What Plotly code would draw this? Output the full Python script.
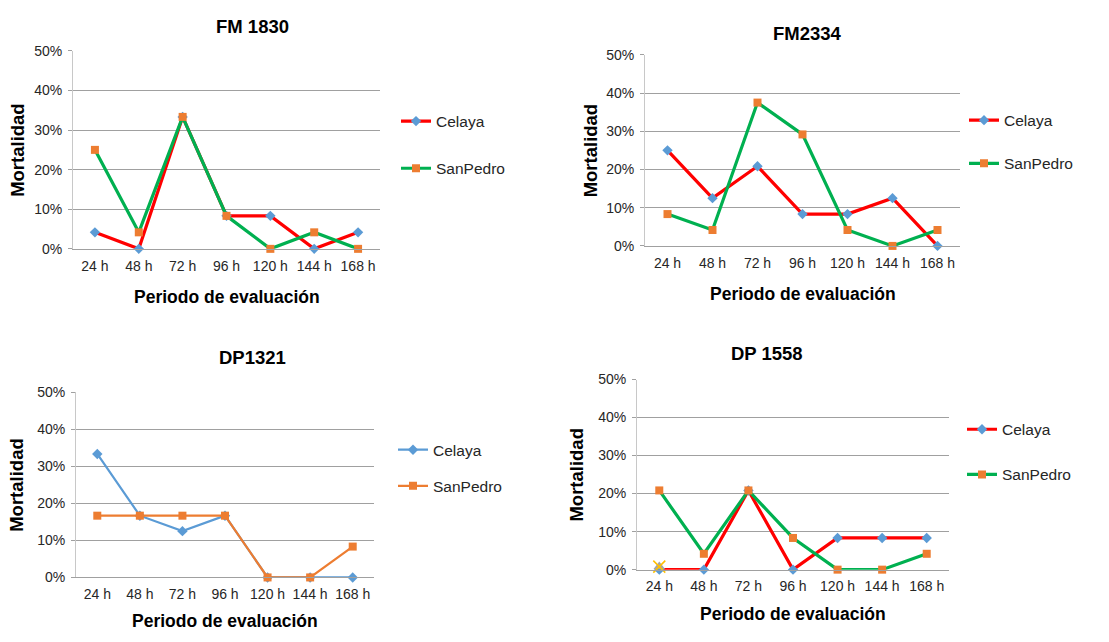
import plotly.graph_objects as go

W, H = 1109, 642
categories = ["24 h", "48 h", "72 h", "96 h", "120 h", "144 h", "168 h"]
panel_titles = ["FM 1830", "FM2334", "DP1321", "DP 1558"]

fm1830_celaya = [0.0417, 0.0, 0.3333, 0.0833, 0.0833, 0.0, 0.0417]
fm1830_sanpedro = [0.25, 0.0417, 0.3333, 0.0833, 0.0, 0.0417, 0.0]
fm2334_celaya = [0.25, 0.125, 0.2083, 0.0833, 0.0833, 0.125, 0.0]
fm2334_sanpedro = [0.0833, 0.0417, 0.375, 0.2917, 0.0417, 0.0, 0.0417]
dp1321_celaya = [0.3333, 0.1667, 0.125, 0.1667, 0.0, 0.0, 0.0]
dp1321_sanpedro = [0.1667, 0.1667, 0.1667, 0.1667, 0.0, 0.0, 0.0833]
dp1558_celaya = [0.0, 0.0, 0.2083, 0.0, 0.0833, 0.0833, 0.0833]
dp1558_sanpedro = [0.2083, 0.0417, 0.2083, 0.0833, 0.0, 0.0, 0.0417]
dp1558_extra = [0.008]  # stray points at 24 h

series = [
    (fm1830_celaya, fm1830_sanpedro),
    (fm2334_celaya, fm2334_sanpedro),
    (dp1321_celaya, dp1321_sanpedro),
    (dp1558_celaya, dp1558_sanpedro),
]

# plot areas in pixels: left, right, top, bottom
areas = [
    (73, 380, 44, 247),
    (645, 960, 48, 244),
    (76, 374, 394, 584),
    (637, 949, 381, 576),
]
title_pos = [(252, 19), (807, 26), (252, 358), (767, 354)]
xtitle_y = [296, 293, 629, 621]
ytitle_x = [18, 590, 17, 577]
legend_pos = [(396, 99), (964, 98), (393, 436), (962, 415)]
legend_gap = [24, 20, 13, 22]

FONT = "Liberation Sans, Arial, sans-serif"
RED, GREEN = "#FF0000", "#00B050"
BLUE, ORANGE = "#5B9BD5", "#ED7D31"
GRID = "#A0A0A0"

fig = go.Figure()
layout = dict(
    width=W, height=H, margin=dict(l=0, r=0, t=0, b=0),
    paper_bgcolor="white", plot_bgcolor="white", showlegend=True,
    font=dict(family=FONT, color="#262626"),
)
annotations = []

for i, ((cel, sp), (l, r, t, b)) in enumerate(zip(series, areas)):
    n = "" if i == 0 else str(i + 1)
    xa, ya = "x" + n, "y" + n
    leg = "legend" + n
    if i == 2:
        lc_c, lc_s, lw = BLUE, ORANGE, 2.2
    else:
        lc_c, lc_s, lw = RED, GREEN, 3.2
    fig.add_trace(go.Scatter(
        x=categories, y=cel, name="Celaya", mode="lines+markers",
        line=dict(color=lc_c, width=lw),
        marker=dict(symbol="diamond", size=8, color=BLUE),
        xaxis=xa, yaxis=ya, legend=leg, legendgroup="c" + n, cliponaxis=False,
    ))
    fig.add_trace(go.Scatter(
        x=categories, y=sp, name="SanPedro", mode="lines+markers",
        line=dict(color=lc_s, width=lw),
        marker=dict(symbol="square", size=8, color=ORANGE),
        xaxis=xa, yaxis=ya, legend=leg, legendgroup="s" + n, cliponaxis=False,
    ))
    if i == 3:
        fig.add_trace(go.Scatter(
            x=categories[:1], y=dp1558_extra, mode="markers", showlegend=False,
            marker=dict(symbol="triangle-up", size=10, color="#A5A5A5"),
            xaxis=xa, yaxis=ya, cliponaxis=False,
        ))
        fig.add_trace(go.Scatter(
            x=categories[:1], y=dp1558_extra, mode="markers", showlegend=False,
            marker=dict(symbol="x-thin", size=12, line=dict(color="#FFC000", width=1.5)),
            xaxis=xa, yaxis=ya, cliponaxis=False,
        ))
    layout["xaxis" + n] = dict(
        domain=[l / W, r / W], anchor=ya, type="category",
        range=[-0.5, 6.5], showgrid=False, showline=True, linecolor=GRID,
        linewidth=1, ticks="", ticklabelstandoff=4,
        tickfont=dict(size=14, color="#262626"), fixedrange=True,
    )
    layout["yaxis" + n] = dict(
        domain=[1 - b / H, 1 - t / H], anchor=xa, range=[0, 0.5], dtick=0.1,
        tickformat=".0%", showgrid=True, gridcolor=GRID, gridwidth=1,
        zeroline=False, showline=True, linecolor="#C8C8C8", linewidth=1,
        ticks="outside", ticklen=4, tickcolor=GRID, ticklabelstandoff=3,
        tickfont=dict(size=14, color="#262626"), fixedrange=True,
    )
    lx, ly = legend_pos[i]
    layout[leg] = dict(
        x=lx / W, y=1 - ly / H, xanchor="left", yanchor="top",
        font=dict(size=15.5, family=FONT, color="#262626"),
        bgcolor="rgba(0,0,0,0)", traceorder="grouped",
        tracegroupgap=legend_gap[i], itemwidth=30,
    )
    tx, ty = title_pos[i]
    annotations.append(dict(
        text="<b>%s</b>" % panel_titles[i], x=tx / W, y=1 - ty / H,
        xref="paper", yref="paper", showarrow=False,
        xanchor="center", yanchor="middle",
        font=dict(size=18.5, family=FONT, color="black"),
    ))
    annotations.append(dict(
        text="<b>Periodo de evaluación</b>", x=(l + r) / 2 / W,
        y=1 - xtitle_y[i] / H, xref="paper", yref="paper", showarrow=False,
        xanchor="center", yanchor="middle",
        font=dict(size=17.5, family=FONT, color="black"),
    ))
    annotations.append(dict(
        text="<b>Mortalidad</b>", x=ytitle_x[i] / W, y=1 - (t + b) / 2 / H,
        xref="paper", yref="paper", showarrow=False, textangle=-90,
        xanchor="center", yanchor="middle",
        font=dict(size=18.5, family=FONT, color="black"),
    ))

layout["annotations"] = annotations
fig.update_layout(**layout)
fig.write_html("out.html")
